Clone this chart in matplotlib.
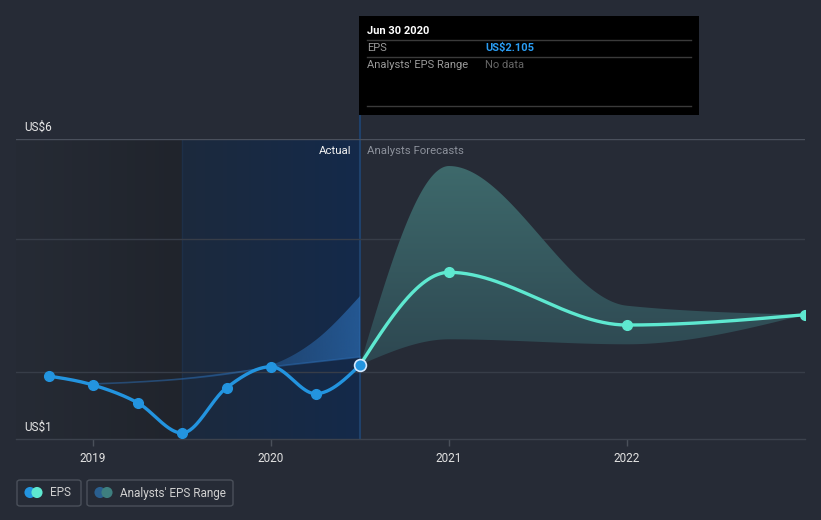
import numpy as np
import matplotlib
matplotlib.use("Agg")
import matplotlib.pyplot as plt
from matplotlib.patches import Rectangle, FancyBboxPatch, Polygon
from matplotlib.colors import LinearSegmentedColormap, to_rgba

# ---------------- data ----------------
eps_dates = [2018.75, 2019.0, 2019.25, 2019.5, 2019.75, 2020.0, 2020.25, 2020.5]
eps_values = [1.914, 1.759, 1.455, 0.933, 1.713, 2.074, 1.610, 2.105]

past_range_dates = [2019.0, 2019.25, 2019.5, 2019.75, 2020.0, 2020.25, 2020.5]
past_range_low = [1.777, 1.811, 1.863, 1.949, 2.069, 2.155, 2.241]
past_range_high = [1.777, 1.820, 1.880, 1.975, 2.104, 2.530, 3.291]

fc_dates = [2020.5, 2021.0, 2022.0, 2023.0]
fc_values = [2.105, 3.699, 2.792, 2.969]
fc_low = [2.105, 2.546, 2.460, 2.969]
fc_high = [2.105, 5.529, 3.124, 2.969]

year_ticks = [2019, 2020, 2021, 2022]
year_labels = ["2019", "2020", "2021", "2022"]
grid_values = [1.983, 4.272, 5.994]

# ---------------- helpers ----------------
def monotone(xs, ys, n=60):
    x = np.asarray(xs, float); y = np.asarray(ys, float)
    m = len(x)
    h = np.diff(x); s = np.diff(y) / h
    t = np.zeros(m)
    for i in range(1, m - 1):
        h0, h1, s0, s1 = h[i-1], h[i], s[i-1], s[i]
        p = (s0 * h1 + s1 * h0) / (h0 + h1)
        t[i] = (np.sign(s0) + np.sign(s1)) * min(abs(s0), abs(s1), 0.5 * abs(p))
    if m > 2:
        t[0] = (3 * s[0] - t[1]) / 2
        t[-1] = (3 * s[-1] - t[-2]) / 2
    else:
        t[:] = s[0]
    X, Y = [], []
    for i in range(m - 1):
        u = np.linspace(0, 1, n, endpoint=(i == m - 2))
        h00 = 2*u**3 - 3*u**2 + 1; h10 = u**3 - 2*u**2 + u
        h01 = -2*u**3 + 3*u**2; h11 = u**3 - u**2
        X.append(x[i] + u * h[i])
        Y.append(h00*y[i] + h10*h[i]*t[i] + h01*y[i+1] + h11*h[i]*t[i+1])
    return np.concatenate(X), np.concatenate(Y)

W, H = 821, 520
fig = plt.figure(figsize=(W/100, H/100), dpi=100)
BG = "#262b36"
fig.patch.set_facecolor(BG)
plt.rcParams['font.family'] = ['Roboto', 'DejaVu Sans']

ax_l, ax_r, ax_t, ax_b = 16, 805, 139, 439
ax = fig.add_axes([ax_l/W, 1 - ax_b/H, (ax_r-ax_l)/W, (ax_b-ax_t)/H])
ax.set_facecolor(BG)
x0, x1 = 2018.567, 2023.0
y0, y1 = 0.83, 5.994
ax.set_xlim(x0, x1); ax.set_ylim(y0, y1)

# background shadings
cm_left = LinearSegmentedColormap.from_list("l", ["#262b35", "#20242c"])
ax.imshow(np.linspace(0, 1, 256).reshape(1, -1), cmap=cm_left, aspect="auto",
          extent=[x0, 2019.5, y0, y1], zorder=0, interpolation="bicubic")
cm_blue = LinearSegmentedColormap.from_list("b", ["#1c2a3d", "#14294a"])
ax.imshow(np.linspace(0, 1, 256).reshape(1, -1), cmap=cm_blue, aspect="auto",
          extent=[2019.5, 2020.5, y0, y1], zorder=0, interpolation="bicubic")
ax.axvline(2019.5, color="#1d2f48", lw=1, zorder=0.5)
ax.axvline(2020.5, ymin=0, ymax=(ax_b-115)/(ax_b-ax_t), color="#1f416b", lw=1.5,
           zorder=0.6, clip_on=False)

# grid lines
for i, g in enumerate(grid_values):
    ax.axhline(g, color="#4a505c" if i == len(grid_values)-1 else "#373d48", lw=1, zorder=1)

# past range band with horizontal gradient
px, pl = monotone(past_range_dates, past_range_low)
_, ph = monotone(past_range_dates, past_range_high)
poly = Polygon(np.column_stack([np.r_[px, px[::-1]], np.r_[ph, pl[::-1]]]),
               closed=True, facecolor="none", edgecolor="none")
ax.add_patch(poly)
grad = np.zeros((1, 256, 4))
c = to_rgba("#2c6db3")
grad[..., :3] = c[:3]
grad[..., 3] = np.linspace(0.0, 0.75, 256) ** 1.3
im = ax.imshow(grad, aspect="auto", extent=[past_range_dates[0], past_range_dates[-1], y0, y1],
               zorder=2, interpolation="bicubic")
im.set_clip_path(poly)
ax.plot(px, pl, color="#2c6db3", lw=1.2, alpha=0.5, zorder=2.1)

# forecast band with vertical gradient
fx, fl = monotone(fc_dates, fc_low)
_, fh = monotone(fc_dates, fc_high)
poly2 = Polygon(np.column_stack([np.r_[fx, fx[::-1]], np.r_[fh, fl[::-1]]]),
                closed=True, facecolor="none", edgecolor="none")
ax.add_patch(poly2)
cm_fc = LinearSegmentedColormap.from_list("f", ["#2d4650", "#3e6a6c"])
im2 = ax.imshow(np.linspace(0, 1, 256).reshape(-1, 1)[::-1], cmap=cm_fc, aspect="auto",
                extent=[fc_dates[0], fc_dates[-1], 2.0, 5.6], zorder=2, interpolation="bicubic")
im2.set_clip_path(poly2)
ax.fill_between(fx, fl, np.minimum(fh, 2.0), where=fl < 2.0, color="#2d4650", zorder=2)

# EPS line
ex, ey = monotone(eps_dates, eps_values)
ax.plot(ex, ey, color="#2394df", lw=2.4, zorder=3, solid_capstyle="round")
ax.plot(eps_dates[:-1], eps_values[:-1], "o", color="#2394df", ms=7, zorder=4)

# forecast line
qx, qy = monotone(fc_dates, fc_values)
ax.plot(qx, qy, color="#5ee8d0", lw=2.4, zorder=3)
ax.plot(fc_dates[1:], fc_values[1:], "o", color="#5ee8d0", ms=7, zorder=4)
ax.plot([eps_dates[-1]], [eps_values[-1]], "o", color="#2394df", ms=8.5,
        markeredgecolor="#d4e8ff", markeredgewidth=1.2, zorder=5)

# axes styling
for s in ["left", "right", "top"]:
    ax.spines[s].set_visible(False)
ax.spines["bottom"].set_color("#3c424d")
ax.spines["bottom"].set_linewidth(1)
ax.set_yticks([])
ax.set_xticks(year_ticks)
ax.set_xticklabels(year_labels)
ax.tick_params(axis="x", colors="#4a505a", length=5, width=1, pad=4,
               labelcolor="#e2e2e2", labelsize=8.5)

# labels
ax.text(2020.5 - 0.05, 5.994 - 12/58.1, "Actual", color="#f0f0f0", fontsize=8.2,
        ha="right", va="center", zorder=6)
ax.text(2020.5 + 0.04, 5.994 - 12/58.1, "Analysts Forecasts", color="#8c919b", fontsize=8.2,
        ha="left", va="center", zorder=6)

def ft(x, y, s, **kw):
    fig.text(x/W, 1 - y/H, s, **kw)

ft(24, 127, "US$6", color="#e6e6e6", fontsize=8.5, va="center")
ft(24, 427, "US$1", color="#e6e6e6", fontsize=8.5, va="center")

# tooltip
fig.patches.append(Rectangle((359/W, 1 - 115/H), 340/W, 99/H, transform=fig.transFigure,
                             facecolor="#000000", edgecolor="none", zorder=10))
for yy in [40, 57, 106]:
    fig.lines.append(plt.Line2D([367/W, 691/W], [1 - yy/H, 1 - yy/H], transform=fig.transFigure,
                                color="#3a3a3a", lw=1, zorder=11))
ft(367, 31, "Jun 30 2020", color="#ffffff", fontsize=8, fontweight="bold", va="center", zorder=12)
ft(367, 48, "EPS", color="#9a9a9a", fontsize=8, va="center", zorder=12)
ft(485, 48, "US$2.105", color="#2a9df4", fontsize=8, fontweight="bold", va="center", zorder=12)
ft(367, 65, "Analysts' EPS Range", color="#9a9a9a", fontsize=8, va="center", zorder=12)
ft(485, 65, "No data", color="#666666", fontsize=8, va="center", zorder=12)

# legend
def box(xa, xb):
    fig.patches.append(FancyBboxPatch((xa/W, 1 - 506/H), (xb-xa)/W, 26/H,
                                      boxstyle="round,pad=0,rounding_size=0.004",
                                      transform=fig.transFigure, facecolor="none",
                                      edgecolor="#4a505a", lw=1))
box(17, 81)
box(87, 233)
lax = fig.add_axes([0, 0, 1, 1], facecolor="none")
lax.set_xlim(0, W); lax.set_ylim(H, 0); lax.axis("off")
lax.scatter([30, 37], [492.5, 492.5], s=64, c=["#2394df", "#5ee8d0"], zorder=3, edgecolors="none")
lax.scatter([100, 107], [492.5, 492.5], s=64, c=["#2a5f8f", "#3e7f7f"], zorder=3, edgecolors="none")
lax.text(50, 493, "EPS", color="#d0d0d0", fontsize=8.5, va="center")
lax.text(120, 493, "Analysts' EPS Range", color="#d0d0d0", fontsize=8.5, va="center")

fig.savefig("out.png", dpi=100, facecolor=BG)
